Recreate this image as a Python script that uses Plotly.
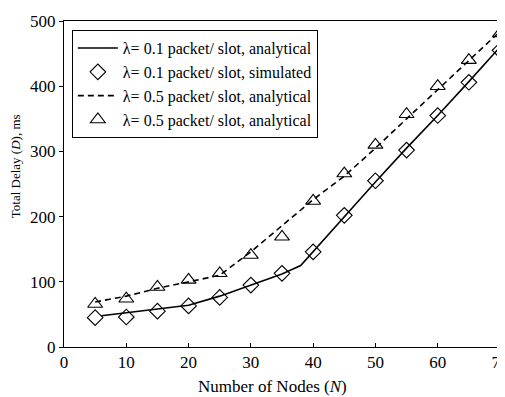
import plotly.graph_objects as go

# analytical lambda=0.1
n_an1 = [6, 20, 25, 30, 35, 38, 45, 50, 55, 60, 65, 70]
d_an1 = [48, 64, 78, 95, 112, 125, 200, 253, 305, 355, 407, 460]
# simulated lambda=0.1
n_sim1 = [5, 10, 15, 20, 25, 30, 35, 40, 45, 50, 55, 60, 65, 70]
d_sim1 = [45, 46, 55, 63, 76, 95, 113, 146, 202, 255, 302, 355, 406, 455]
# analytical lambda=0.5
n_an5 = [5, 10, 15, 20, 25, 30, 35, 40, 45, 50, 55, 60, 65, 70]
d_an5 = [69, 78, 90, 100, 110, 146, 186, 226, 262, 305, 350, 395, 440, 484]
# second lambda=0.5 series (markers)
n_sim5 = [5, 10, 15, 20, 25, 30, 35, 40, 45, 50, 55, 60, 65, 70]
d_sim5 = [66, 74, 92, 103, 113, 141, 169, 224, 266, 310, 357, 400, 440, 481]

x_ticks = [0, 10, 20, 30, 40, 50, 60, 70]
y_ticks = [0, 100, 200, 300, 400, 500]

labels = [
    "\u03bb= 0.1 packet/ slot, analytical",
    "\u03bb= 0.1 packet/ slot, simulated",
    "\u03bb= 0.5 packet/ slot, analytical",
    "\u03bb= 0.5 packet/ slot, analytical",
]
x_title = "Number of Nodes (<i>N</i>)"
y_title = "Total Delay (<i>D</i>), ms"

font = "Liberation Serif, Times New Roman, serif"

fig = go.Figure()
fig.add_trace(go.Scatter(x=n_an1, y=d_an1, mode="lines", name=labels[0],
                         line=dict(color="black", width=1.6)))
fig.add_trace(go.Scatter(x=n_sim1, y=d_sim1, mode="markers", name=labels[1],
                         marker=dict(symbol="diamond-open", size=12, color="black",
                                     line=dict(width=1.1, color="black"))))
fig.add_trace(go.Scatter(x=n_an5, y=d_an5, mode="lines", name=labels[2],
                         line=dict(color="black", width=1.6, dash="6px,4px")))
fig.add_trace(go.Scatter(x=n_sim5, y=d_sim5, mode="markers", name=labels[3],
                         marker=dict(symbol="triangle-up-open", size=13, color="black",
                                     line=dict(width=1.1, color="black"))))

fig.update_layout(
    width=497, height=389,
    margin=dict(l=56, r=5, t=13, b=50, autoexpand=False),
    paper_bgcolor="white", plot_bgcolor="white",
    font=dict(family=font, size=14, color="black"),
    showlegend=True,
    legend=dict(x=0.018, y=0.972, xanchor="left", yanchor="top",
                bgcolor="white", bordercolor="black", borderwidth=1,
                font=dict(family=font, size=16), tracegroupgap=0,
                itemwidth=40),
    xaxis=dict(range=[0, 70], tickvals=x_ticks, ticks="inside", ticklen=4,
               tickcolor="black", showline=True, linecolor="black", linewidth=1,
               mirror=True, showgrid=False, zeroline=False, automargin=False,
               ticklabeloverflow="allow",
               tickfont=dict(family=font, size=17)),
    yaxis=dict(range=[0, 500], tickvals=y_ticks, ticks="outside", ticklen=4,
               tickcolor="black", showline=True, linecolor="black", linewidth=1,
               mirror=True, showgrid=False, zeroline=False, automargin=False,
               ticklabeloverflow="allow",
               tickfont=dict(family=font, size=17)),
    annotations=[
        dict(text=x_title, xref="paper", yref="paper", x=0.479, y=-0.122,
             xanchor="center", yanchor="middle", showarrow=False,
             font=dict(family=font, size=17)),
        dict(text=y_title, xref="paper", yref="paper", x=-0.112, y=0.555,
             xanchor="center", yanchor="middle", showarrow=False, textangle=-90,
             font=dict(family=font, size=13)),
    ],
)

fig.write_html("out.html")
